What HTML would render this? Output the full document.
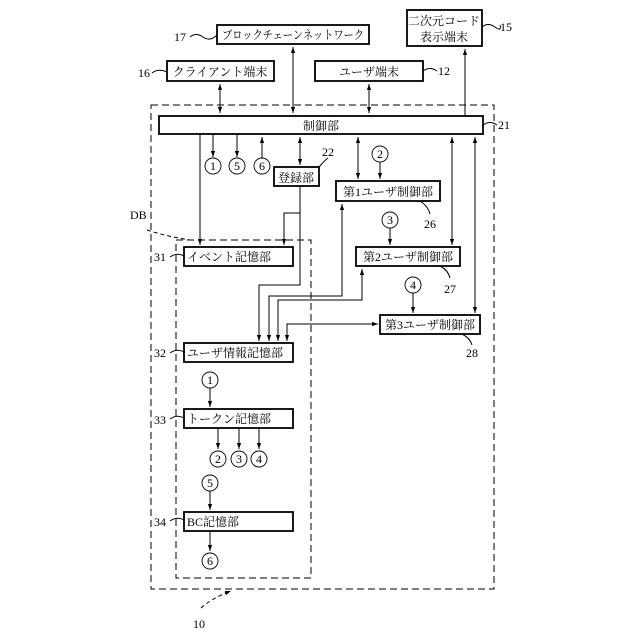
<!DOCTYPE html>
<html><head><meta charset="utf-8"><style>body{margin:0;background:#fff}svg{display:block}</style></head><body>
<svg width="640" height="640" viewBox="0 0 640 640" xmlns="http://www.w3.org/2000/svg" font-family="'Liberation Serif','Noto Serif CJK SC','Noto Sans CJK JP',serif" font-size="12">
<defs><marker id="a" viewBox="0 0 10 10" refX="10" refY="5" markerWidth="6" markerHeight="7" orient="auto-start-reverse"><path d="M0,1.5 L10,5 L0,8.5z" fill="#000"/></marker></defs>
<g fill="none" stroke="#000" stroke-width="1">
<rect x="151" y="105" width="343" height="484" stroke-dasharray="7,4"/>
<rect x="176" y="240" width="135" height="338" stroke-dasharray="7,4"/>
<path d="M147,230 Q165,236 190,240" stroke-dasharray="4,3"/>
</g>
<g fill="#fff" stroke="#000" stroke-width="1.8">
<rect x="217" y="25" width="152" height="19"/>
<rect x="407" y="10" width="75" height="36"/>
<rect x="167" y="61" width="107" height="20"/>
<rect x="315" y="61" width="108" height="20"/>
<rect x="159" y="116" width="324" height="18"/>
<rect x="274" y="167" width="45" height="19"/>
<rect x="336" y="181" width="104" height="20"/>
<rect x="356" y="247" width="104" height="19"/>
<rect x="380" y="315" width="100" height="19"/>
<rect x="184" y="247" width="109" height="19"/>
<rect x="184" y="343" width="109" height="19"/>
<rect x="184" y="409" width="109" height="19"/>
<rect x="184" y="512" width="109" height="19"/>
</g>
<g fill="none" stroke="#000" stroke-width="1">
<line x1="220" y1="84" x2="220" y2="113" marker-start="url(#a)" marker-end="url(#a)"/>
<line x1="293" y1="47" x2="293" y2="113" marker-start="url(#a)" marker-end="url(#a)"/>
<line x1="369" y1="84" x2="369" y2="113" marker-start="url(#a)" marker-end="url(#a)"/>
<line x1="465" y1="116" x2="465" y2="49" marker-end="url(#a)"/>
<line x1="213" y1="134" x2="213" y2="157" marker-end="url(#a)"/>
<line x1="237" y1="134" x2="237" y2="157" marker-end="url(#a)"/>
<line x1="262" y1="158" x2="262" y2="137" marker-end="url(#a)"/>
<line x1="300" y1="137" x2="300" y2="165" marker-start="url(#a)" marker-end="url(#a)"/>
<line x1="358" y1="137" x2="358" y2="179" marker-start="url(#a)" marker-end="url(#a)"/>
<line x1="380" y1="162" x2="380" y2="179" marker-end="url(#a)"/>
<line x1="452" y1="137" x2="452" y2="245" marker-start="url(#a)" marker-end="url(#a)"/>
<line x1="475" y1="137" x2="475" y2="313" marker-start="url(#a)" marker-end="url(#a)"/>
<line x1="390" y1="228" x2="390" y2="245" marker-end="url(#a)"/>
<line x1="413" y1="293" x2="413" y2="313" marker-end="url(#a)"/>
<line x1="200" y1="134" x2="200" y2="245" marker-end="url(#a)"/>
<polyline points="300,186 300,213 284,213 284,245" marker-end="url(#a)"/>
<polyline points="300,213 300,285 259,285 259,341" marker-end="url(#a)"/>
<polyline points="342,204 342,296 269,296 269,341" marker-start="url(#a)" marker-end="url(#a)"/>
<polyline points="362,269 362,300 278,300 278,341" marker-start="url(#a)" marker-end="url(#a)"/>
<polyline points="287,341 287,324 378,324" marker-start="url(#a)" marker-end="url(#a)"/>
<line x1="210" y1="388" x2="210" y2="407" marker-end="url(#a)"/>
<line x1="218" y1="428" x2="218" y2="449" marker-end="url(#a)"/>
<line x1="239" y1="428" x2="239" y2="449" marker-end="url(#a)"/>
<line x1="259" y1="428" x2="259" y2="449" marker-end="url(#a)"/>
<line x1="210" y1="491" x2="210" y2="510" marker-end="url(#a)"/>
<line x1="210" y1="531" x2="210" y2="551" marker-end="url(#a)"/>
<path d="M201,608 Q212,598 231,591" stroke-dasharray="4,3" marker-end="url(#a)"/>
<path d="M190,37 Q196,32 203,37 T217,35"/><path d="M482,27 Q488,22 495,27 T500,25"/>
<path d="M152,73 Q158,68 167,72"/><path d="M423,71 Q430,66 437,71"/>
<path d="M483,125 Q490,120 497,125"/>
<path d="M319,167 Q325,160 328,158"/>
<path d="M420,201 Q428,206 430,214"/><path d="M440,266 Q448,270 450,278"/><path d="M462,334 Q470,338 472,345"/>
<path d="M170,257 Q177,252 184,256"/><path d="M170,353 Q177,348 184,352"/><path d="M170,419 Q177,414 184,418"/><path d="M170,521 Q177,516 184,520"/>
</g>
<g fill="#fff" stroke="#000" stroke-width="0.9">
<circle cx="213" cy="166" r="8"/><circle cx="237" cy="166" r="8"/><circle cx="262" cy="166" r="8"/>
<circle cx="380" cy="154" r="8"/><circle cx="390" cy="220" r="8"/><circle cx="413" cy="285" r="8"/>
<circle cx="210" cy="380" r="8"/><circle cx="218" cy="459" r="8"/><circle cx="239" cy="459" r="8"/><circle cx="259" cy="459" r="8"/>
<circle cx="210" cy="483" r="8"/><circle cx="210" cy="561" r="8"/>
</g>
<g text-anchor="middle" fill="#000">
<text x="213" y="170">1</text><text x="237" y="170">5</text><text x="262" y="170">6</text>
<text x="380" y="158">2</text><text x="390" y="224">3</text><text x="413" y="289">4</text>
<text x="210" y="384">1</text><text x="218" y="463">2</text><text x="239" y="463">3</text><text x="259" y="463">4</text>
<text x="210" y="487">5</text><text x="210" y="565">6</text>
<text x="293" y="39" textLength="142" lengthAdjust="spacingAndGlyphs">ブロックチェーンネットワーク</text>
<text x="444" y="25">二次元コード</text><text x="444" y="41">表示端末</text>
<text x="220" y="76">クライアント端末</text>
<text x="369" y="76">ユーザ端末</text>
<text x="321" y="130">制御部</text>
<text x="296" y="182">登録部</text>
<text x="388" y="196">第1ユーザ制御部</text>
<text x="408" y="261">第2ユーザ制御部</text>
<text x="430" y="329">第3ユーザ制御部</text>
</g>
<g fill="#000">
<text x="187" y="261">イベント記憶部</text>
<text x="187" y="357">ユーザ情報記憶部</text>
<text x="187" y="423">トークン記憶部</text>
<text x="187" y="526">BC記憶部</text>
<text x="174" y="41">17</text><text x="500" y="31">15</text>
<text x="138" y="77">16</text><text x="438" y="75">12</text>
<text x="498" y="129">21</text><text x="322" y="156">22</text>
<text x="424" y="228">26</text><text x="444" y="293">27</text><text x="466" y="357">28</text>
<text x="130" y="219">DB</text>
<text x="154" y="261">31</text><text x="154" y="357">32</text><text x="154" y="424">33</text><text x="154" y="526">34</text>
<text x="193" y="628">10</text>
</g>
</svg>
</body></html>
